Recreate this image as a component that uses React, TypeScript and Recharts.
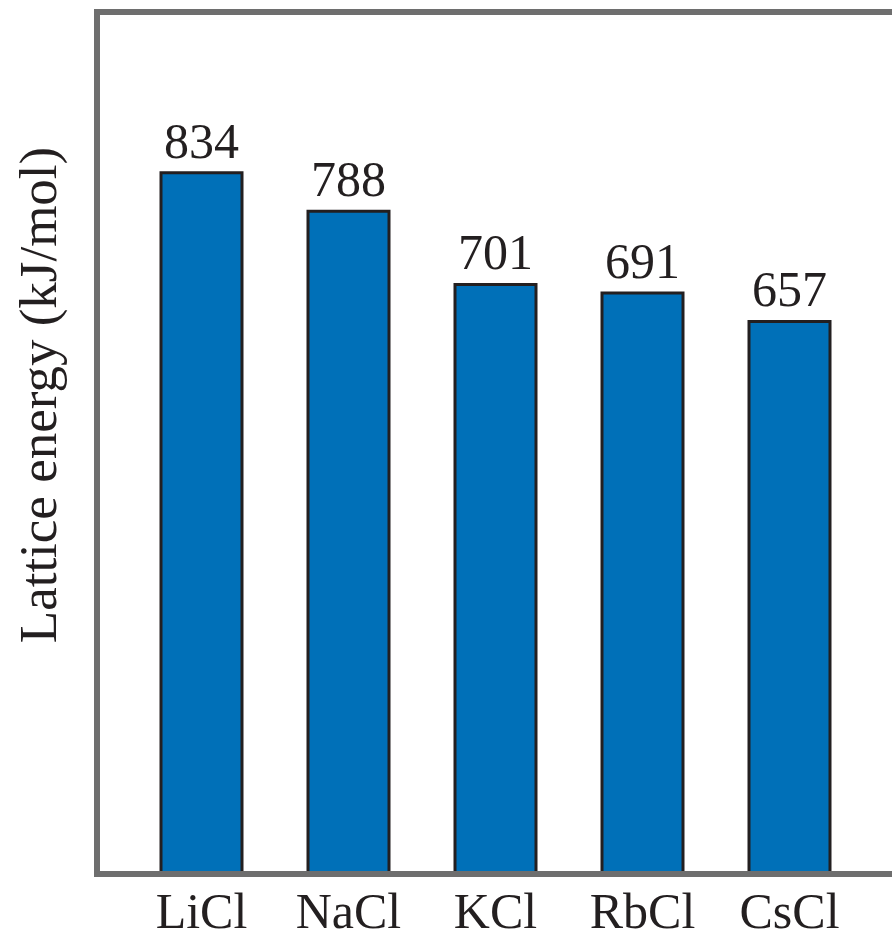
import React from 'react';
import { BarChart, Bar, XAxis, YAxis, ReferenceLine, LabelList } from 'recharts';

const salts = ['LiCl', 'NaCl', 'KCl', 'RbCl', 'CsCl'];
const latticeEnergy = [834, 788, 701, 691, 657];
const yMax = 1025;

const data = salts.map((name, i) => ({ name, value: latticeEnergy[i] }));

const FONT = '"Liberation Serif", "Times New Roman", serif';
const FRAME = '#6e6e6e';
const INK = '#231f20';

const YLabel = () => (
  <text
    x={56}
    y={395}
    transform="rotate(-90 56 395)"
    textAnchor="middle"
    fontFamily={FONT}
    fontSize={53}
    fill={INK}
  >
    Lattice energy (kJ/mol)
  </text>
);

export default function App() {
  return (
    <div style={{ position: 'absolute', left: 0, top: 0, width: 892, height: 937, overflow: 'hidden', background: '#fff' }}>
      <BarChart
        width={900}
        height={937}
        data={data}
        margin={{ top: 12, right: 7, bottom: 33, left: 0 }}
        barCategoryGap={0}
      >
        <YAxis
          width={97}
          domain={[0, yMax]}
          allowDataOverflow
          tick={false}
          tickLine={false}
          axisLine={{ stroke: FRAME, strokeWidth: 6, strokeLinecap: 'square' }}
          label={<YLabel />}
        />
        <ReferenceLine y={yMax} stroke={FRAME} strokeWidth={6} strokeLinecap="square" />
        <Bar dataKey="value" fill="#0070b8" stroke={INK} strokeWidth={3} barSize={81} isAnimationActive={false}>
          <LabelList dataKey="value" position="top" offset={15} fill={INK} fontSize={50} fontFamily={FONT} />
        </Bar>
        <XAxis
          dataKey="name"
          padding={{ left: 31, right: 30 }}
          tickLine={false}
          tickSize={0}
          tickMargin={18}
          axisLine={{ stroke: FRAME, strokeWidth: 6, strokeLinecap: 'square' }}
          tick={{ fill: INK, fontSize: 50, fontFamily: FONT }}
          interval={0}
        />
      </BarChart>
    </div>
  );
}
